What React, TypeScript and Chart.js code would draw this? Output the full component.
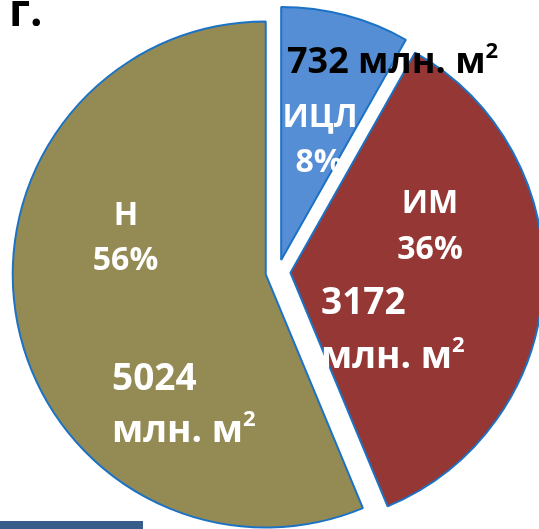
import { useEffect, useRef } from "react";
import { Chart, registerables } from "chart.js";

Chart.register(...registerables);

// ---- data ----
const categories = ["ИЦЛ", "ИМ", "Н"];
const areaValues = [732, 3172, 5024]; // млн. м²
const unitText = "млн. м";
const unitSup = "2";
const panelLetter = "г.";
const sliceColors = ["#558ED5", "#953735", "#948A54"];

const total = areaValues.reduce((a, b) => a + b, 0);
const percentLabels = areaValues.map((v) => Math.round((v / total) * 100) + "%");

// ---- layout / style ----
const FONT = '"Open Sans", "Noto Sans", sans-serif';
const EXPLODE = 12.5;
const PIE_RADIUS = 253;
const BORDER_COLOR = "#1C72C4";

// label placement per slice (name/percent centred, value left aligned)
const labelLayout = [
  { nameX: 320, nameY: 127, pctX: 319, pctY: 172, valX: 287, valY: 73, unitInline: true, valColor: "#000000" },
  { nameX: 430, nameY: 213, pctX: 430, pctY: 259, valX: 321, valY: 314, unitX: 321, unitY: 368, valColor: "#ffffff" },
  { nameX: 126, nameY: 225, pctX: 125.5, pctY: 270, valX: 112, valY: 390, unitX: 112, unitY: 442, valColor: "#ffffff" },
];

const NAME_SIZE = 32;
const VALUE_SIZE = 37;

function drawWithSup(ctx: CanvasRenderingContext2D, text: string, sup: string, x: number, y: number, size: number, color: string) {
  ctx.font = `bold ${size}px ${FONT}`;
  ctx.textAlign = "left";
  ctx.textBaseline = "alphabetic";
  ctx.fillStyle = color;
  ctx.fillText(text, x, y);
  const w = ctx.measureText(text).width;
  ctx.font = `bold ${Math.round(size * 0.6)}px ${FONT}`;
  ctx.fillText(sup, x + w, y - size * 0.43);
}

const explodePlugin = {
  id: "explodeSlices",
  afterDatasetsUpdate(chart: any) {
    const meta = chart.getDatasetMeta(0);
    meta.data.forEach((arc: any) => {
      const mid = (arc.startAngle + arc.endAngle) / 2;
      arc.x += Math.cos(mid) * EXPLODE;
      arc.y += Math.sin(mid) * EXPLODE;
    });
  },
};

const labelPlugin = {
  id: "sliceLabels",
  afterDatasetsDraw(chart: any) {
    const ctx: CanvasRenderingContext2D = chart.ctx;
    ctx.save();
    // panel letter
    ctx.font = `bold 44px ${FONT}`;
    ctx.fillStyle = "#000000";
    ctx.textAlign = "left";
    ctx.textBaseline = "alphabetic";
    ctx.fillText(panelLetter, 9, 26);

    categories.forEach((name, i) => {
      const L: any = labelLayout[i];
      ctx.font = `bold ${NAME_SIZE}px ${FONT}`;
      ctx.fillStyle = "#ffffff";
      ctx.textAlign = "center";
      ctx.textBaseline = "alphabetic";
      ctx.fillText(name, L.nameX, L.nameY);
      ctx.fillText(percentLabels[i], L.pctX, L.pctY);

      const valStr = String(areaValues[i]);
      if (L.unitInline) {
        drawWithSup(ctx, valStr + " " + unitText, unitSup, L.valX, L.valY, VALUE_SIZE - 1, L.valColor);
      } else {
        ctx.font = `bold ${VALUE_SIZE}px ${FONT}`;
        ctx.fillStyle = L.valColor;
        ctx.textAlign = "left";
        ctx.fillText(valStr, L.valX, L.valY);
        drawWithSup(ctx, unitText, unitSup, L.unitX, L.unitY, VALUE_SIZE, L.valColor);
      }
    });
    ctx.restore();
  },
};

export default function App() {
  const ref = useRef<HTMLCanvasElement | null>(null);

  useEffect(() => {
    if (!ref.current) return;
    const chart = new Chart(ref.current, {
      type: "pie",
      data: {
        labels: categories,
        datasets: [
          {
            data: areaValues,
            backgroundColor: sliceColors,
            borderColor: BORDER_COLOR,
            borderWidth: 2,
            radius: PIE_RADIUS,
          } as any,
        ],
      },
      options: {
        animation: false,
        responsive: false,
        events: [],
        layout: { padding: { left: 17, top: 15, right: 0, bottom: 0 } },
        plugins: {
          legend: { display: false },
          tooltip: { enabled: false },
        },
      },
      plugins: [explodePlugin, labelPlugin],
    });
    return () => chart.destroy();
  }, []);

  return (
    <div style={{ position: "fixed", left: 0, top: 0, width: 539, height: 529, overflow: "hidden", background: "#ffffff" }}>
      <canvas ref={ref} width={539} height={529} style={{ display: "block", width: 539, height: 529 }} />
      <div style={{ position: "absolute", left: 0, top: 521, width: 143, height: 8, background: "#385D8A" }} />
    </div>
  );
}
